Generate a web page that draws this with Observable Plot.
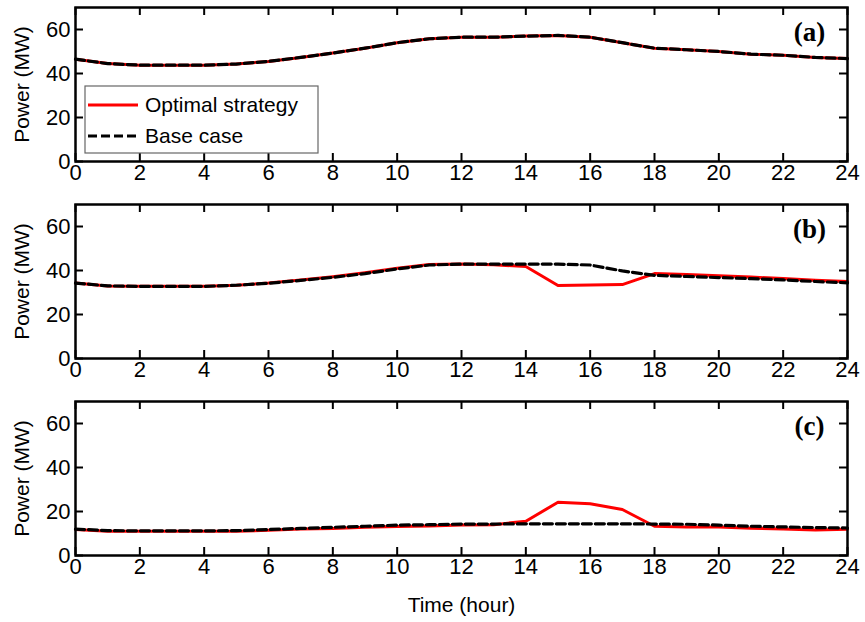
<!DOCTYPE html>
<html><head><meta charset="utf-8">
<script src="https://cdn.jsdelivr.net/npm/d3@7"></script>
<script src="https://cdn.jsdelivr.net/npm/@observablehq/plot@0.6"></script>
<style>body{margin:0;background:#fff;} #chart svg{display:block;}</style>
</head><body><div id="chart"></div>
<script>
const hours = [0,1,2,3,4,5,6,7,8,9,10,11,12,13,14,15,16,17,18,19,20,21,22,23,24];
const optimalA = [46.5,44.5,43.8,43.8,43.8,44.3,45.5,47.3,49.3,51.5,54.0,55.8,56.5,56.5,57.0,57.3,56.5,54.0,51.5,50.8,50.0,48.8,48.3,47.3,46.8];
const baseA    = [46.5,44.5,43.8,43.8,43.8,44.3,45.5,47.3,49.3,51.5,54.0,55.8,56.5,56.5,57.0,57.3,56.5,54.0,51.5,50.8,50.0,48.8,48.3,47.3,46.8];
const optimalB = [34.3,33.0,32.8,32.8,32.8,33.3,34.3,35.7,37.2,39.0,41.0,42.7,42.9,42.6,41.8,33.2,33.4,33.6,38.6,38.2,37.6,37.0,36.4,35.6,35.0];
const baseB    = [34.3,33.0,32.8,32.8,32.8,33.3,34.2,35.5,36.9,38.6,40.7,42.5,42.9,42.9,42.9,42.9,42.5,39.8,37.8,37.3,36.8,36.3,35.7,35.0,34.4];
const optimalC = [11.8,11.0,11.0,11.0,11.0,11.0,11.5,12.0,12.3,12.8,13.2,13.4,13.9,14.0,15.6,24.2,23.5,20.9,13.3,13.0,12.9,12.4,12.1,11.6,11.9];
const baseC    = [12.0,11.3,11.2,11.2,11.2,11.3,11.8,12.3,12.8,13.3,13.8,14.0,14.3,14.3,14.4,14.4,14.4,14.4,14.3,14.2,13.8,13.3,13.0,12.7,12.5];
const panelLabels = ["(a)","(b)","(c)"];
const seriesNames = ["Optimal strategy","Base case"];
const xTicks = [0,2,4,6,8,10,12,14,16,18,20,22,24];
const yTicks = [0,20,40,60];
const yLabel = "Power (MW)";
const xLabel = "Time (hour)";

const W = 865, ML = 75, MR = 18, MT = 7, PH = 154;
const PW = W - ML - MR;
const TICK = 8;
const FS = 21, TFS = 22;
const sansFont = "'Liberation Sans', Arial, sans-serif";
const lineStyles = [{stroke: "#ff0000", width: 3, dash: null}, {stroke: "#000", width: 3.2, dash: "9,4"}];

function panel(label, opt, base, isLast, withLegend) {
  const mb = isLast ? 67 : 36;
  const rows = hours.map((h, i) => ({h, opt: opt[i], base: base[i]}));
  const plot = Plot.plot({
    width: W, height: MT + PH + mb,
    marginTop: MT, marginBottom: mb, marginLeft: ML, marginRight: MR,
    x: {domain: [0, 24]},
    y: {domain: [0, 70]},
    style: {fontFamily: sansFont, fontSize: FS + "px", background: "#fff", color: "#000", overflow: "visible"},
    marks: [
      Plot.line(rows, {x: "h", y: "opt", stroke: lineStyles[0].stroke, strokeWidth: lineStyles[0].width}),
      Plot.line(rows, {x: "h", y: "base", stroke: lineStyles[1].stroke, strokeWidth: lineStyles[1].width, strokeDasharray: lineStyles[1].dash}),
      Plot.tickX(xTicks, {x: d => d, insetTop: PH - TICK, stroke: "#000", strokeWidth: 2}),
      Plot.tickX(xTicks, {x: d => d, insetBottom: PH - TICK, stroke: "#000", strokeWidth: 2}),
      Plot.tickY(yTicks, {y: d => d, insetRight: PW - TICK, stroke: "#000", strokeWidth: 2}),
      Plot.tickY(yTicks, {y: d => d, insetLeft: PW - TICK, stroke: "#000", strokeWidth: 2}),
      Plot.axisX(xTicks, {tickSize: 0, tickPadding: 3, label: null, fontSize: TFS}),
      Plot.axisY(yTicks, {tickSize: 0, tickPadding: 5, label: null, fontSize: TFS}),
      Plot.frame({stroke: "#000", strokeWidth: 2.5}),
      Plot.text([label], {frameAnchor: "top-right", textAnchor: "middle", lineAnchor: "middle", dx: -38, dy: 25,
        fontFamily: "'Liberation Serif', 'Times New Roman', serif", fontWeight: "bold", fontSize: 27, fill: "#000", text: d => d}),
      Plot.text([yLabel], {frameAnchor: "left", rotate: -90, dx: -53, textAnchor: "middle",
        fontFamily: sansFont, fontSize: FS, fill: "#000", text: d => d}),
      ...(isLast ? [Plot.text([xLabel], {frameAnchor: "bottom", dy: 50, lineAnchor: "middle", fontSize: FS, fill: "#000", text: d => d})] : [])
    ]
  });
  if (withLegend) {
    const svg = d3.select(plot);
    const lx = ML + 10, ly = MT + 79, lw = 233, lh = 67;
    const g = svg.append("g");
    g.append("rect").attr("x", lx).attr("y", ly).attr("width", lw).attr("height", lh)
      .attr("fill", "#fff").attr("stroke", "#666").attr("stroke-width", 1.2);
    seriesNames.forEach((name, i) => {
      const cy = ly + 19 + i * 31;
      g.append("line").attr("x1", lx + 3).attr("x2", lx + 53).attr("y1", cy).attr("y2", cy)
        .attr("stroke", lineStyles[i].stroke).attr("stroke-width", lineStyles[i].width)
        .attr("stroke-dasharray", lineStyles[i].dash);
      g.append("text").attr("x", lx + 60).attr("y", cy).attr("dy", "0.35em")
        .attr("text-anchor", "start")
        .attr("font-family", sansFont).attr("font-size", FS).attr("fill", "#000").text(name);
    });
  }
  return plot;
}

const chart = document.getElementById("chart");
chart.append(panel(panelLabels[0], optimalA, baseA, false, true));
chart.append(panel(panelLabels[1], optimalB, baseB, false, false));
chart.append(panel(panelLabels[2], optimalC, baseC, true, false));
</script>
</body></html>
